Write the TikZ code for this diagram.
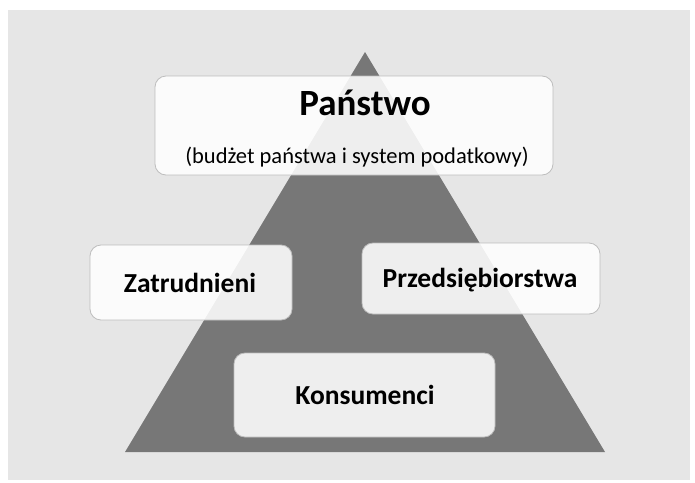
\documentclass[tikz,border=0pt]{standalone}
\usepackage{fontspec}
\setmainfont{Carlito}
\definecolor{pagebg}{HTML}{E6E6E6}
\definecolor{pyramid}{HTML}{777777}
\definecolor{boxline}{HTML}{BDBDBD}
\tikzset{
  x=1pt, y=-1pt,
  panel/.style={draw=boxline, line width=0.8pt, rounded corners=11pt,
                fill=white, fill opacity=0.88, text opacity=1,
                inner sep=0pt},
  label/.style={font=\bfseries, text=black}
}
\begin{document}
\begin{tikzpicture}
  \useasboundingbox (0,0) rectangle (695,482);
  % page backdrop
  \fill[white] (0,0) rectangle (695,482);
  \fill[pagebg] (8,10) rectangle (690,480);
  % pyramid
  \fill[pyramid] (365,52) coordinate (apex) -- (605,452) coordinate (br)
                 -- (125,452) coordinate (bl) -- cycle;
  % panels
  \path[panel] (155,76) rectangle (553,175);
  \node[label, font=\bfseries\fontsize{37}{40}\selectfont] (panstwo) at (365,103) {Państwo};
  \node[font=\fontsize{22.5}{26}\selectfont] (budzet) at (357,157) {(budżet państwa i system podatkowy)};

  \path[panel] (90,245) rectangle (292,320);
  \node[label, font=\bfseries\fontsize{27.5}{30}\selectfont] (zatr) at (190,283) {Zatrudnieni};

  \path[panel] (362,243) rectangle (600,314);
  \node[label, font=\bfseries\fontsize{27.5}{30}\selectfont] (przed) at (480,280) {Przedsiębiorstwa};

  \path[panel] (234,353) rectangle (495,437);
  \node[label, font=\bfseries\fontsize{27.5}{30}\selectfont] (kons) at (365,395) {Konsumenci};
\end{tikzpicture}
\end{document}
